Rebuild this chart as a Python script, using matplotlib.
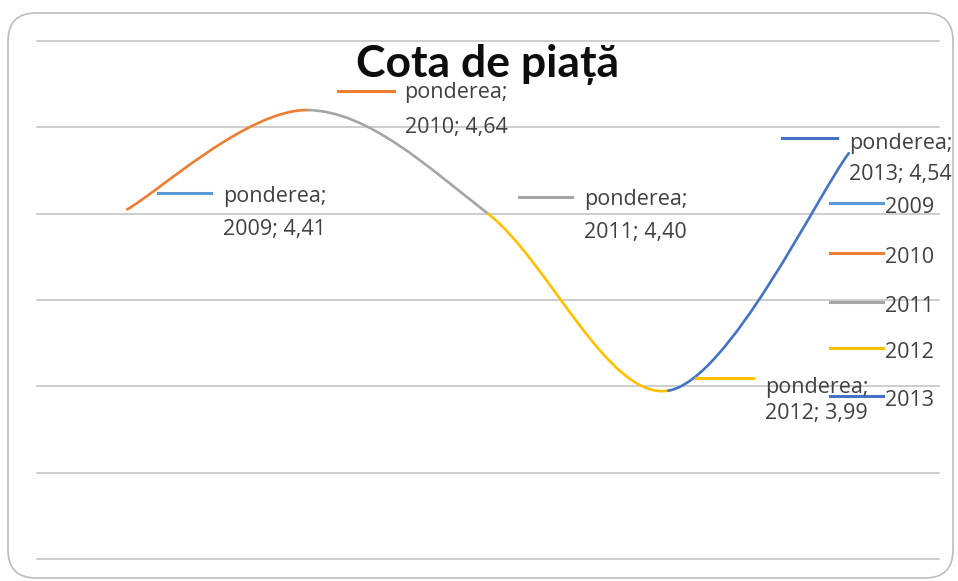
import numpy as np
import matplotlib
matplotlib.use('Agg')
import matplotlib.pyplot as plt
from matplotlib.path import Path
from matplotlib.patches import PathPatch, FancyBboxPatch
from matplotlib.lines import Line2D
from matplotlib.transforms import IdentityTransform

# chart data
years = ['2009', '2010', '2011', '2012', '2013']
values = [4.41, 4.64, 4.40, 3.99, 4.54]
series_name = 'ponderea'
title = 'Cota de piață'
y_ticks = [3.6, 3.8, 4.0, 4.2, 4.4, 4.6, 4.8]

colors = ['#5B9BD5', '#ED7D31', '#A5A5A5', '#FFC000', '#4472C4']
text_color = '#404040'
grid_color = '#c0c0c0'
font = ['Open Sans', 'DejaVu Sans']
title_font = ['Lato', 'DejaVu Sans']
fs = 15.5

# label layout, pixel offsets from the point (x right, y down):
# key start, key end, key y, text x, line1 baseline, line2 baseline
label_offsets = [
   (31, 84, -16, 96, -7, 26),
   (30, 86, -19, 97, -12, 23),
   (31, 84, -17, 96, -9, 24),
   (28, 85, -13, 97, 2, 28),
   (-67, -12, -15, 0, -4, 27),
]

W, H = 958, 581
fig = plt.figure(figsize=(W / 100, H / 100), dpi=100)
fig.patch.set_facecolor('white')
pix = IdentityTransform()

# rounded chart border
border = FancyBboxPatch((8, H - 578), 945, 565,
                        boxstyle='round,pad=0,rounding_size=28',
                        transform=pix, fc='none', ec='#bdbdbd', lw=1.2)
fig.add_artist(border)

ax = fig.add_axes([37 / W, 1 - 559 / H, (939 - 37) / W, (559 - 41) / H])
ax.set_xlim(-0.5, len(years) - 0.5)
ax.set_ylim(y_ticks[0], y_ticks[-1])
ax.set_yticks(y_ticks)
ax.grid(axis='y', color=grid_color, lw=1.1)
for gl in ax.get_ygridlines():
   gl.set_clip_on(False)
ax.tick_params(left=False, bottom=False, labelleft=False, labelbottom=False)
for s in ax.spines.values():
   s.set_visible(False)
ax.set_facecolor('none')

# smoothed line (Excel style bezier), each segment coloured by its end year
pts = np.column_stack([np.arange(len(values)), values]).astype(float)
n = len(pts)
for k in range(n - 1):
   p0, p3 = pts[k], pts[k + 1]
   prev = pts[k - 1] if k > 0 else p0
   nxt = pts[k + 2] if k + 2 < n else p3
   c1 = p0 + (p3 - prev) / 6.0
   c2 = p3 - (nxt - p0) / 6.0
   path = Path([p0, c1, c2, p3],
               [Path.MOVETO, Path.CURVE4, Path.CURVE4, Path.CURVE4])
   ax.add_patch(PathPatch(path, fc='none', ec=colors[k + 1], lw=1.9,
                          capstyle='round', zorder=3))

fig.canvas.draw()

# data labels with legend key
for i, (yr, v) in enumerate(zip(years, values)):
   x0, y0 = ax.transData.transform((i, v))
   k0, k1, ky, tx, b1, b2 = label_offsets[i]
   fig.add_artist(Line2D([x0 + k0, x0 + k1], [y0 - ky, y0 - ky],
                         transform=pix, color=colors[i], lw=2.2))
   val = f'{v:.2f}'.replace('.', ',')
   fig.text(x0 + tx, y0 - b1, f'{series_name};', transform=pix,
            ha='left', va='baseline', fontsize=fs, color=text_color,
            family=font)
   fig.text(x0 + tx, y0 - b2, f'{yr}; {val}', transform=pix,
            ha='left', va='baseline', fontsize=fs, color=text_color,
            family=font)

# legend
leg_y = [203, 253, 302, 348, 396]
for i, yr in enumerate(years):
   fig.add_artist(Line2D([830, 883], [H - leg_y[i], H - leg_y[i]],
                         transform=pix, color=colors[i], lw=2.2))
   fig.text(885, H - leg_y[i] - 10, yr, transform=pix, ha='left',
            va='baseline', fontsize=fs, color=text_color, family=font)

# title
fig.text(487.5, H - 77, title, transform=pix, ha='center', va='baseline',
         fontsize=32, fontweight='bold', color='#0d0d0d', family=title_font)

fig.savefig('out.png', dpi=100)
